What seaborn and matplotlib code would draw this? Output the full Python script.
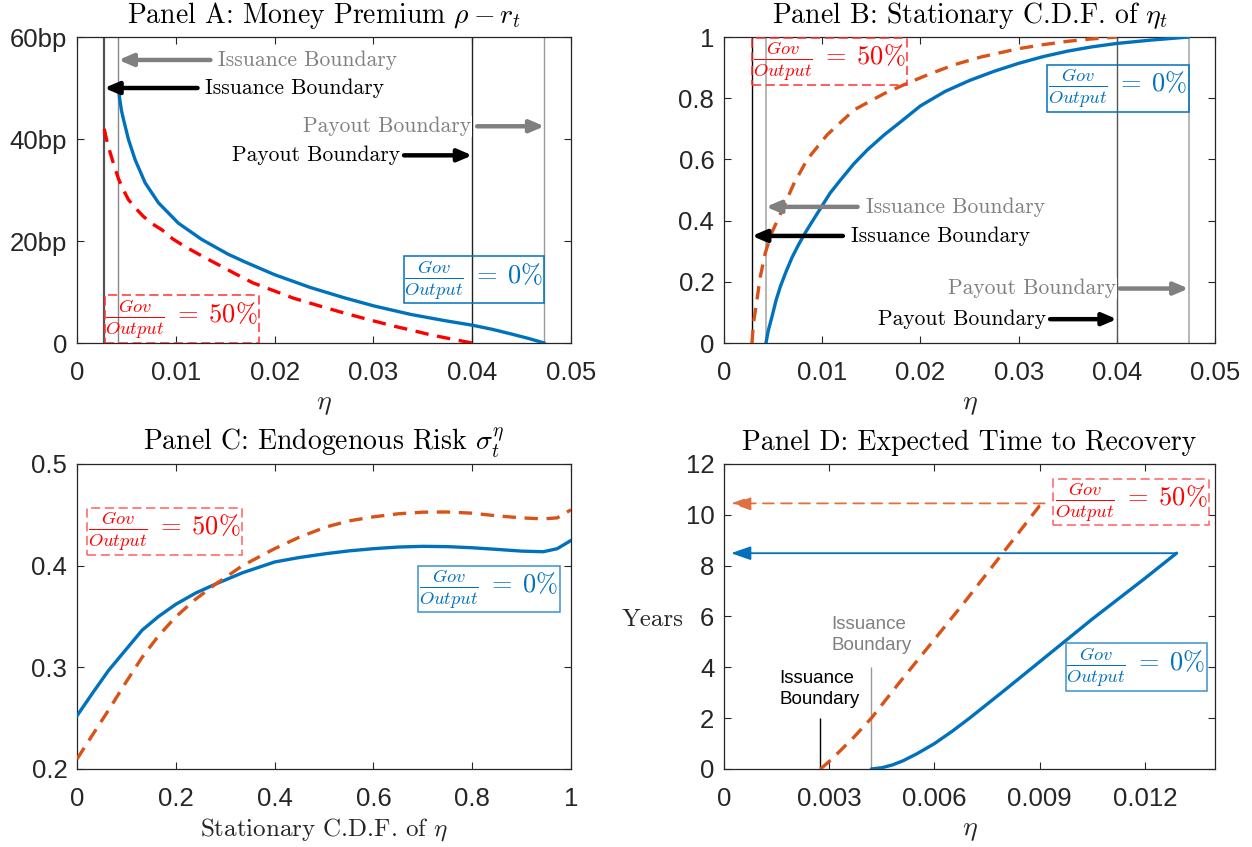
import matplotlib
matplotlib.use("Agg")
import matplotlib.pyplot as plt
from matplotlib.patches import Rectangle
import seaborn as sns

# ---------------- data ----------------
# Panel A: money premium (bp) vs eta
a_eta_gov0 = [0.0042, 0.0043, 0.0045, 0.00471, 0.00521, 0.00589, 0.0069, 0.00824, 0.01026, 0.01263,
              0.01531, 0.0170, 0.0200, 0.0236, 0.0270, 0.0300, 0.0338, 0.0372, 0.0400, 0.0420,
              0.0439, 0.0456, 0.0473]
a_prem_gov0 = [49.8, 48.2, 45.6, 43.8, 39.9, 35.9, 31.4, 27.5, 23.5, 20.3,
               17.4, 15.9, 13.4, 10.9, 8.9, 7.3, 5.6, 4.4, 3.5, 2.7,
               1.8, 0.95, 0.0]
a_eta_gov50 = [0.00276, 0.0030, 0.00336, 0.0038, 0.0042, 0.0047, 0.00521, 0.0060, 0.00673, 0.0076,
               0.00859, 0.0097, 0.01094, 0.0128, 0.01465, 0.0160, 0.0178, 0.0200, 0.0219, 0.0245,
               0.0270, 0.0295, 0.0321, 0.0340, 0.0358, 0.0380, 0.0400]
a_prem_gov50 = [42.0, 39.8, 37.3, 34.5, 32.2, 30.0, 28.1, 26.3, 24.8, 23.4,
                22.2, 20.4, 18.9, 16.9, 15.0, 13.6, 11.8, 10.2, 8.8, 7.3,
                5.9, 4.6, 3.3, 2.45, 1.6, 0.75, 0.0]

# Panel B: stationary CDF of eta
b_eta_gov0 = [0.00427, 0.0045, 0.00489, 0.0053, 0.00574, 0.0063, 0.00693, 0.0076, 0.0083, 0.0090,
              0.00984, 0.0108, 0.01189, 0.0132, 0.01462, 0.0163, 0.01803, 0.0200, 0.0225, 0.0250,
              0.0275, 0.0300, 0.0325, 0.0350, 0.0375, 0.0400, 0.0435, 0.0473]
b_cdf_gov0 = [0.0, 0.04, 0.087, 0.14, 0.185, 0.232, 0.28, 0.322, 0.362, 0.398,
              0.441, 0.49, 0.534, 0.585, 0.632, 0.68, 0.724, 0.775, 0.822, 0.858,
              0.888, 0.914, 0.936, 0.954, 0.968, 0.979, 0.990, 1.0]
b_eta_gov50 = [0.00284, 0.0030, 0.0034, 0.0037, 0.0042, 0.00484, 0.00604, 0.0071, 0.00847, 0.01052,
               0.01325, 0.0163, 0.0186, 0.0210, 0.0235, 0.0262, 0.0300, 0.0325, 0.0350, 0.0375,
               0.0400]
b_cdf_gov50 = [0.0, 0.065, 0.152, 0.218, 0.294, 0.359, 0.443, 0.52, 0.600, 0.681,
               0.762, 0.815, 0.848, 0.880, 0.910, 0.935, 0.962, 0.975, 0.986, 0.994,
               1.0]

# Panel C: endogenous risk vs stationary CDF
c_cdf = [0.0, 0.032, 0.064, 0.1, 0.132, 0.165, 0.2, 0.24, 0.281, 0.335,
         0.4, 0.45, 0.504, 0.55, 0.6, 0.65, 0.7, 0.75, 0.8, 0.85,
         0.9, 0.944, 0.972, 1.0]
c_sigma_gov0 = [0.2523, 0.275, 0.297, 0.318, 0.3366, 0.350, 0.362, 0.373, 0.382, 0.393,
                0.4036, 0.408, 0.4118, 0.4145, 0.4167, 0.4183, 0.419, 0.4187, 0.4176, 0.4160,
                0.4143, 0.4137, 0.4167, 0.4248]
c_sigma_gov50 = [0.2098, 0.234, 0.258, 0.286, 0.310, 0.331, 0.3497, 0.367, 0.382, 0.400,
                 0.4167, 0.428, 0.438, 0.444, 0.448, 0.451, 0.4526, 0.4528, 0.4516, 0.449,
                 0.447, 0.446, 0.447, 0.455]

# Panel D: expected time to recovery (years)
d_eta_gov0 = [0.0042, 0.0045, 0.0048, 0.0051, 0.0055, 0.0060, 0.0065, 0.0070, 0.0075, 0.0080,
              0.0090, 0.0105, 0.0120, 0.0129]
d_years_gov0 = [0.0, 0.05, 0.16, 0.32, 0.60, 1.0, 1.48, 2.0, 2.55, 3.1,
                4.22, 5.9, 7.5, 8.49]
d_eta_gov50 = [0.00275, 0.0030, 0.0033, 0.0037, 0.0042, 0.0050, 0.0060, 0.00686, 0.00795, 0.0090,
               0.00914]
d_years_gov50 = [0.0, 0.3, 0.7, 1.25, 2.0, 3.4, 5.1, 6.57, 8.5, 10.36, 10.45]

eta_ticks_ab = [0, 0.01, 0.02, 0.03, 0.04, 0.05]
eta_ticklabels_ab = ["0", "0.01", "0.02", "0.03", "0.04", "0.05"]
prem_ticks = [0, 20, 40, 60]
prem_ticklabels = ["0", "20bp", "40bp", "60bp"]
cdf_ticks = [0, 0.2, 0.4, 0.6, 0.8, 1.0]
cdf_ticklabels = ["0", "0.2", "0.4", "0.6", "0.8", "1"]
sigma_ticks = [0.2, 0.3, 0.4, 0.5]
sigma_ticklabels = ["0.2", "0.3", "0.4", "0.5"]
eta_ticks_d = [0, 0.003, 0.006, 0.009, 0.012]
eta_ticklabels_d = ["0", "0.003", "0.006", "0.009", "0.012"]
years_ticks = [0, 2, 4, 6, 8, 10, 12]
years_ticklabels = ["0", "2", "4", "6", "8", "10", "12"]

titles = [r"Panel A: Money Premium $\rho - r_t$",
          r"Panel B: Stationary C.D.F. of $\eta_t$",
          r"Panel C: Endogenous Risk $\sigma_t^{\eta}$",
          "Panel D: Expected Time to Recovery"]
label_gov0 = r"$\frac{Gov}{Output}\;=\;0\%$"
label_gov50 = r"$\frac{Gov}{Output}\;=\;50\%$"

# ---------------- style ----------------
sns.set_theme(style="white")
plt.rcParams["font.family"] = ["Liberation Sans", "DejaVu Sans"]
plt.rcParams["mathtext.fontset"] = "cm"
plt.rcParams["axes.edgecolor"] = "#262626"
plt.rcParams["axes.linewidth"] = 0.9

BLUE = "#0072BD"
ORANGE = "#D95319"
RED = "#FF0000"
GRAY = "#808080"
SERIF = "cmr10"
TICK_FS = 18.5
TITLE_FS = 20
ANN_FS = 15.5
BOX_FS = 19

fig = plt.figure(figsize=(12.52, 8.47), dpi=100)
axA = fig.add_axes([0.0615, 0.5950, 0.3946, 0.3613])
axB = fig.add_axes([0.5783, 0.5950, 0.3922, 0.3613])
axC = fig.add_axes([0.0615, 0.0921, 0.3946, 0.3601])
axD = fig.add_axes([0.5783, 0.0921, 0.3922, 0.3601])


def style_axes(ax, xlim, ylim, xt, xtl, yt, ytl, title):
    ax.set_xlim(*xlim)
    ax.set_ylim(*ylim)
    ax.set_xticks(xt)
    ax.set_xticklabels(xtl)
    ax.set_yticks(yt)
    ax.set_yticklabels(ytl)
    ax.tick_params(direction="in", bottom=True, left=True, top=True, right=True,
                   length=5, width=0.8, labelsize=TICK_FS, colors="#262626")
    ax.tick_params(axis="x", pad=13)
    ax.tick_params(axis="y", pad=7)
    ax.set_title(title, fontsize=TITLE_FS, family=SERIF, pad=10, color="black")
    for s in ax.spines.values():
        s.set_color("#262626")
        s.set_linewidth(0.9)


def box(ax, x0, y0, x1, y1, text, color, edge, ls):
    ax.add_patch(Rectangle((x0, y0), x1 - x0, y1 - y0, facecolor="none",
                           edgecolor=edge, lw=1.1, ls=ls, zorder=5))
    ax.text((x0 + x1) / 2, (y0 + y1) / 2, text, color=color, fontsize=BOX_FS,
            ha="center", va="center", zorder=6)


def thick_arrow(ax, x_from, x_to, y, color):
    ax.annotate("", xy=(x_to, y), xytext=(x_from, y),
                arrowprops=dict(arrowstyle="-|>,head_length=0.7,head_width=0.3",
                                color=color, lw=3.2, shrinkA=0, shrinkB=0),
                zorder=7)


# ---------------- Panel A ----------------
ax = axA
ax.axvline(a_eta_gov50[0], color="#555555", lw=1.6, zorder=1)
ax.axvline(a_eta_gov0[0], color="#888888", lw=1.0, zorder=1)
ax.axvline(a_eta_gov50[-1], color="#222222", lw=1.0, zorder=1)
ax.axvline(a_eta_gov0[-1], color="#999999", lw=1.0, zorder=1)
sns.lineplot(x=a_eta_gov0, y=a_prem_gov0, ax=ax, color=BLUE, lw=2.4, sort=False, zorder=3)
sns.lineplot(x=a_eta_gov50, y=a_prem_gov50, ax=ax, color=RED, lw=2.4, sort=False, zorder=3)
ax.lines[-1].set_dashes((4, 2.6))
style_axes(ax, (0, 0.05), (0, 60), eta_ticks_ab, eta_ticklabels_ab, prem_ticks, prem_ticklabels, titles[0])
ax.set_xlabel(r"$\eta$", fontsize=20, labelpad=4)
thick_arrow(ax, 0.0135, a_eta_gov0[0], 55.5, GRAY)
ax.text(0.0143, 55.5, "Issuance Boundary", family=SERIF, fontsize=ANN_FS, color=GRAY, va="center", ha="left")
thick_arrow(ax, 0.0122, a_eta_gov50[0], 50, "black")
ax.text(0.0130, 50, "Issuance Boundary", family=SERIF, fontsize=ANN_FS, color="black", va="center", ha="left")
ax.text(0.0399, 42.5, "Payout Boundary", family=SERIF, fontsize=ANN_FS, color=GRAY, va="center", ha="right",
        bbox=dict(facecolor="white", edgecolor="none", pad=0.5), zorder=6)
thick_arrow(ax, 0.0405, a_eta_gov0[-1], 42.5, GRAY)
ax.text(0.0327, 36.8, "Payout Boundary", family=SERIF, fontsize=ANN_FS, color="black", va="center", ha="right")
thick_arrow(ax, 0.0331, a_eta_gov50[-1], 36.8, "black")
box(ax, 0.0028, 0.1, 0.0184, 9.4, label_gov50, RED, "#FF3030", (0, (6, 3)))
box(ax, 0.0331, 7.8, 0.0473, 17.0, label_gov0, BLUE, BLUE, "-")

# ---------------- Panel B ----------------
ax = axB
ax.axvline(b_eta_gov50[0], color="black", lw=1.0, zorder=1)
ax.axvline(b_eta_gov0[0], color="#AAAAAA", lw=1.2, zorder=1)
ax.axvline(b_eta_gov50[-1], color="#555555", lw=1.0, zorder=1)
ax.axvline(b_eta_gov0[-1], color="#AAAAAA", lw=1.2, zorder=1)
sns.lineplot(x=b_eta_gov0, y=b_cdf_gov0, ax=ax, color=BLUE, lw=2.4, sort=False, zorder=3)
sns.lineplot(x=b_eta_gov50, y=b_cdf_gov50, ax=ax, color=ORANGE, lw=2.4, sort=False, zorder=3)
ax.lines[-1].set_dashes((4, 2.6))
style_axes(ax, (0, 0.05), (0, 1), eta_ticks_ab, eta_ticklabels_ab, cdf_ticks, cdf_ticklabels, titles[1])
ax.set_xlabel(r"$\eta$", fontsize=20, labelpad=4)
thick_arrow(ax, 0.0136, b_eta_gov0[0], 0.445, GRAY)
ax.text(0.0145, 0.445, "Issuance Boundary", family=SERIF, fontsize=ANN_FS, color=GRAY, va="center", ha="left")
thick_arrow(ax, 0.0121, b_eta_gov50[0], 0.35, "black")
ax.text(0.0129, 0.35, "Issuance Boundary", family=SERIF, fontsize=ANN_FS, color="black", va="center", ha="left")
ax.text(0.0399, 0.178, "Payout Boundary", family=SERIF, fontsize=ANN_FS, color=GRAY, va="center", ha="right",
        bbox=dict(facecolor="white", edgecolor="none", pad=0.5), zorder=6)
thick_arrow(ax, 0.0403, b_eta_gov0[-1], 0.178, GRAY)
ax.text(0.0328, 0.078, "Payout Boundary", family=SERIF, fontsize=ANN_FS, color="black", va="center", ha="right")
thick_arrow(ax, 0.0332, b_eta_gov50[-1], 0.078, "black")
box(ax, 0.0028, 0.842, 0.0186, 0.998, label_gov50, RED, "#FF3030", (0, (6, 3)))
box(ax, 0.0329, 0.755, 0.0473, 0.910, label_gov0, BLUE, BLUE, "-")

# ---------------- Panel C ----------------
ax = axC
sns.lineplot(x=c_cdf, y=c_sigma_gov0, ax=ax, color=BLUE, lw=2.4, sort=False, zorder=3)
sns.lineplot(x=c_cdf, y=c_sigma_gov50, ax=ax, color=ORANGE, lw=2.4, sort=False, zorder=3)
ax.lines[-1].set_dashes((4, 2.6))
style_axes(ax, (0, 1), (0.2, 0.5), cdf_ticks, cdf_ticklabels, sigma_ticks, sigma_ticklabels, titles[2])
ax.set_xlabel(r"Stationary C.D.F. of $\eta$", family=SERIF, fontsize=18, labelpad=4)
box(ax, 0.0203, 0.4106, 0.3343, 0.457, label_gov50, RED, "#FF6060", (0, (6, 3)))
box(ax, 0.690, 0.354, 0.977, 0.3997, label_gov0, BLUE, "#3A92D0", "-")

# ---------------- Panel D ----------------
ax = axD
sns.lineplot(x=d_eta_gov0, y=d_years_gov0, ax=ax, color=BLUE, lw=2.4, sort=False, zorder=3)
sns.lineplot(x=d_eta_gov50, y=d_years_gov50, ax=ax, color=ORANGE, lw=2.4, sort=False, zorder=3)
ax.lines[-1].set_dashes((4, 2.6))
style_axes(ax, (0, 0.014), (0, 12), eta_ticks_d, eta_ticklabels_d, years_ticks, years_ticklabels, titles[3])
ax.set_xlabel(r"$\eta$", fontsize=20, labelpad=4)
ax.set_ylabel("Years", family=SERIF, fontsize=18, rotation=0, ha="right", va="center")
ax.yaxis.set_label_coords(-0.082, 0.49)
ax.vlines(d_eta_gov50[0], 0, 2.0, color="black", lw=1.0, zorder=2)
ax.vlines(d_eta_gov0[0], 0, 4.0, color="#999999", lw=1.0, zorder=2)
ax.text(0.00157, 3.13, "Issuance\nBoundary", fontsize=13.5, color="black", ha="left", va="center", linespacing=1.3)
ax.text(0.00305, 5.27, "Issuance\nBoundary", fontsize=13.5, color=GRAY, ha="left", va="center", linespacing=1.3)
ax.annotate("", xy=(0.0002, d_years_gov0[-1]), xytext=(d_eta_gov0[-1], d_years_gov0[-1]),
            arrowprops=dict(arrowstyle="-|>,head_length=1.0,head_width=0.35", color=BLUE,
                            lw=1.3, shrinkA=0, shrinkB=0), zorder=4)
ax.annotate("", xy=(0.0002, d_years_gov50[-1]), xytext=(d_eta_gov50[-1], d_years_gov50[-1]),
            arrowprops=dict(arrowstyle="-|>,head_length=1.0,head_width=0.35", color="#E07040",
                            lw=1.3, ls=(0, (6, 4)), shrinkA=0, shrinkB=0), zorder=4)
box(ax, 0.00937, 9.58, 0.01383, 11.41, label_gov50, RED, "#FF6060", (0, (6, 3)))
box(ax, 0.00974, 3.07, 0.01376, 4.94, label_gov0, BLUE, "#3A92D0", "-")

fig.savefig("out.png", dpi=100)
